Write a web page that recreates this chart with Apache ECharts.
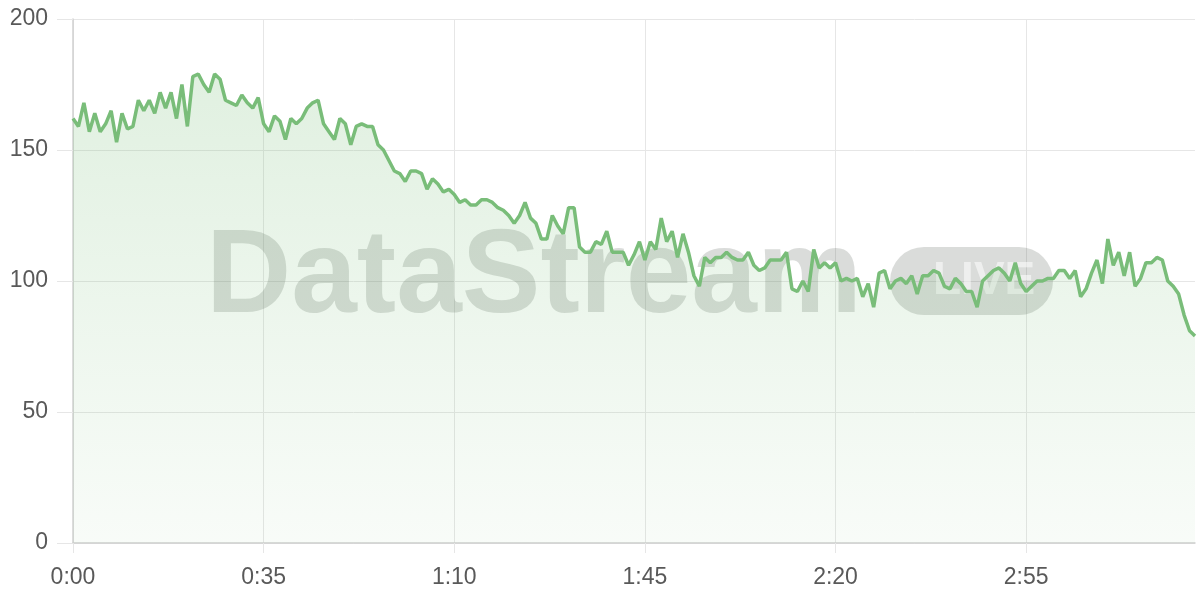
<!DOCTYPE html>
<html>
<head>
<meta charset="utf-8">
<script src="https://cdn.jsdelivr.net/npm/echarts@6/dist/echarts.min.js"></script>
<style>
html,body{margin:0;padding:0;background:#fff;}
#chart{width:1200px;height:600px;}
</style>
</head>
<body>
<div id="chart"></div>
<script>
// seconds 0..206, one sample per second
const values = [
162,159,168,157,164,157,160,165,153,164,158,159,169,165,169,164,172,166,172,162,
175,159,178,179,175,172,179,177,169,168,167,171,168,166,170,160,157,163,161,154,
162,160,162,166,168,169,160,157,154,162,160,152,159,160,159,159,152,150,146,142,
141,138,142,142,141,135,139,137,134,135,133,130,131,129,129,131,131,130,128,127,
125,122,125,130,124,122,116,116,125,121,118,128,128,113,111,111,115,114,119,111,
111,111,106,110,115,108,115,112,124,115,119,109,118,111,102,98,109,107,109,109,
111,109,108,108,111,106,104,105,108,108,108,111,97,96,100,96,112,105,107,105,
107,100,101,100,101,94,99,90,103,104,97,100,101,99,102,95,102,102,104,103,
98,97,101,99,96,96,90,100,102,104,105,103,100,107,99,96,98,100,100,101,
101,104,104,101,104,94,97,103,108,99,116,106,111,102,111,98,101,107,107,109,
108,100,98,95,87,81,79
];
const yTicks = [0, 50, 100, 150, 200];
const labelStep = 35;
const watermarkText = 'DataStream';
const badgeText = 'LIVE';

function fmt(s){ const m = Math.floor(s/60); const r = s%60; return m + ':' + (r<10?'0':'') + r; }
const categories = values.map((v,i)=>fmt(i));

const chart = echarts.init(document.getElementById('chart'), null, {renderer:'canvas'});
const font = '"Liberation Sans", Arial, sans-serif';
const gridColor = '#e6e6e6';
chart.setOption({
  animation:false,
  backgroundColor:'#ffffff',
  grid:{left:73, right:5, top:19, bottom:57, containLabel:false},
  xAxis:{
    type:'category', data:categories, boundaryGap:false,
    axisLine:{show:true, lineStyle:{color:'#d0d0d0', width:1.5}},
    axisTick:{show:true, interval:labelStep-1, length:10, lineStyle:{color:gridColor}},
    axisLabel:{interval:labelStep-1, color:'#595959', fontSize:23, fontFamily:font, margin:23},
    splitLine:{show:true, interval:labelStep-1, lineStyle:{color:gridColor, width:1}}
  },
  yAxis:{
    type:'value', min:yTicks[0], max:yTicks[yTicks.length-1], interval:50,
    axisLine:{show:true, lineStyle:{color:'#d0d0d0', width:1.5}},
    axisTick:{show:true, length:16, lineStyle:{color:gridColor}},
    axisLabel:{color:'#595959', fontSize:23, fontFamily:font, margin:25},
    splitLine:{show:true, lineStyle:{color:gridColor, width:1}}
  },
  graphic:[
    {type:'text', z:1, left:206, top:220, style:{text:watermarkText, font:'bold 118px "Liberation Sans", Arial, sans-serif', fill:'rgba(80,92,80,0.21)'}},
    {type:'rect', z:1, left:890, top:247, shape:{width:163, height:68, r:34}, style:{fill:'rgba(80,92,80,0.21)'}},
    {type:'text', z:1, left:933, top:258, style:{text:badgeText, font:'bold 46px "Liberation Sans", Arial, sans-serif', fill:'rgba(255,255,255,0.55)'}}
  ],
  series:[{
    type:'line', data:values, showSymbol:false, smooth:false, z:2,
    lineStyle:{color:'#79bd79', width:3.5},
    areaStyle:{color:new echarts.graphic.LinearGradient(0,0,0,1,[
      {offset:0,color:'rgba(120,190,120,0.32)'},
      {offset:1,color:'rgba(120,190,120,0.07)'}
    ])}
  }]
});
</script>
</body>
</html>
